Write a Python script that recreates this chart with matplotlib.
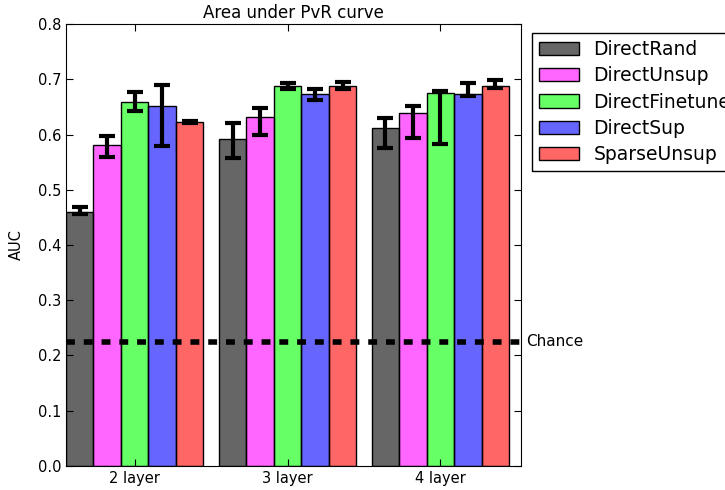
import numpy as np
import matplotlib.pyplot as plt
from matplotlib.colors import to_rgba

# data
groups = ['2 layer', '3 layer', '4 layer']
methods = ['DirectRand', 'DirectUnsup', 'DirectFinetune', 'DirectSup', 'SparseUnsup']

auc = {
    'DirectRand':     [0.460, 0.592, 0.612],
    'DirectUnsup':    [0.581, 0.632, 0.639],
    'DirectFinetune': [0.659, 0.688, 0.675],
    'DirectSup':      [0.652, 0.673, 0.673],
    'SparseUnsup':    [0.623, 0.688, 0.688],
}
# lower / upper ends of the error bars
err_lo = {
    'DirectRand':     [0.456, 0.557, 0.576],
    'DirectUnsup':    [0.559, 0.599, 0.594],
    'DirectFinetune': [0.643, 0.682, 0.583],
    'DirectSup':      [0.579, 0.662, 0.670],
    'SparseUnsup':    [0.621, 0.683, 0.684],
}
err_hi = {
    'DirectRand':     [0.469, 0.620, 0.630],
    'DirectUnsup':    [0.597, 0.648, 0.652],
    'DirectFinetune': [0.677, 0.693, 0.679],
    'DirectSup':      [0.690, 0.682, 0.693],
    'SparseUnsup':    [0.625, 0.695, 0.699],
}
chance = 0.225

cores = ['black', 'magenta', 'lime', 'blue', 'red']

plt.rcParams['font.family'] = 'DejaVu Sans'
plt.rcParams['xtick.direction'] = 'in'
plt.rcParams['ytick.direction'] = 'in'
plt.rcParams['xtick.top'] = True
plt.rcParams['ytick.right'] = True

fig = plt.figure(figsize=(7.25, 4.9), dpi=100)
ax = fig.add_axes([0.091, 0.049, 0.628, 0.902])

ind = np.arange(len(groups))
largura = 0.18
for i, m in enumerate(methods):
    pos = ind - 0.45 + i * largura
    vals = np.array(auc[m])
    yerr = [vals - np.array(err_lo[m]), np.array(err_hi[m]) - vals]
    ax.bar(pos, vals, largura, align='edge', color=to_rgba(cores[i], 0.6),
           edgecolor='black', linewidth=1, label=m)
    ax.errorbar(pos + largura / 2, vals, yerr=yerr, fmt='none', ecolor='black',
                elinewidth=3, capsize=6, capthick=3)

ax.axhline(chance, color='black', linestyle='--', linewidth=4, dashes=(1.6, 1.6))
ax.text(2.56, chance, 'Chance', va='center', ha='left', fontsize=11)

ax.set_xlim(-0.45, 2.53)
ax.set_ylim(0, 0.8)
ax.set_xticks(ind)
ax.set_xticklabels(groups, fontsize=10.5)
ax.set_yticks(np.arange(0, 0.81, 0.1))
ax.set_yticklabels(['%.1f' % v for v in np.arange(0, 0.81, 0.1)], fontsize=10.5)
ax.tick_params(length=5)
ax.set_ylabel('AUC', fontsize=10.5, labelpad=10)
ax.set_title('Area under PvR curve', fontsize=12, pad=4)

# legend sits outside the axes and runs past the right edge, as in the reference
ax.legend(loc='upper left', bbox_to_anchor=(1.023, 0.98), fontsize=13.5,
          handlelength=2.1, labelspacing=0.38, fancybox=False, framealpha=1,
          edgecolor='black', borderaxespad=0)

fig.savefig('out.png', dpi=100)
